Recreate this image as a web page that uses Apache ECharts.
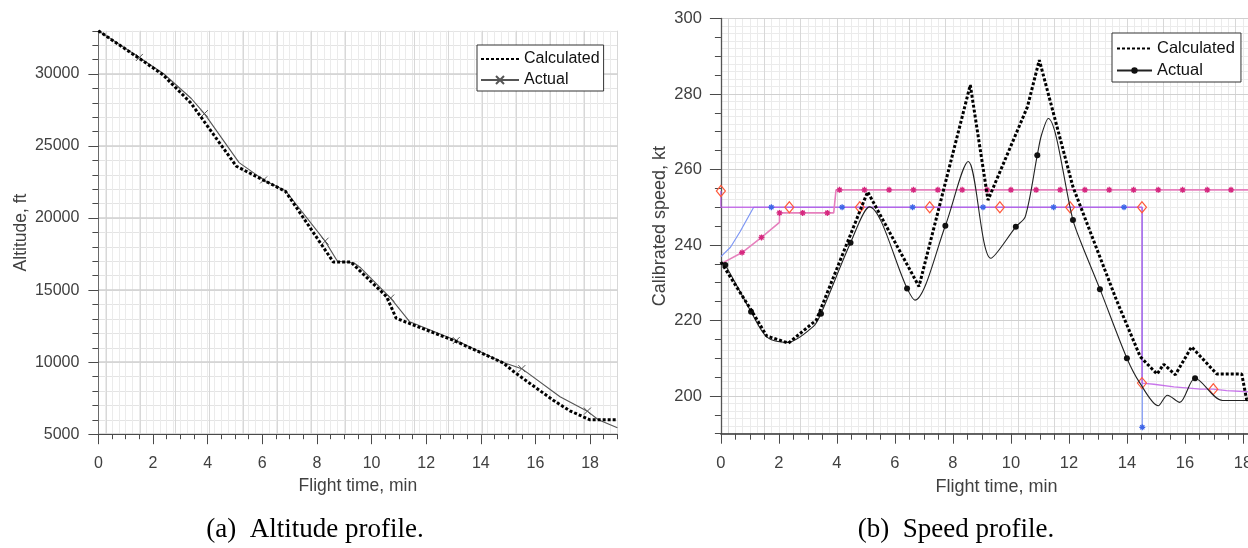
<!DOCTYPE html>
<html><head><meta charset="utf-8">
<script src="https://cdn.jsdelivr.net/npm/echarts@6/dist/echarts.min.js"></script>
<style>html,body{margin:0;padding:0;background:#fff}#c{width:1248px;height:548px}</style>
</head><body><div id="c"></div>
<script>
// ---------- tick labels ----------
const timeTicks = [0, 2, 4, 6, 8, 10, 12, 14, 16, 18];
const altTicks = [5000, 10000, 15000, 20000, 25000, 30000];
const speedTicks = [200, 220, 240, 260, 280, 300];

// ---------- (a) altitude profile ----------
const altCalcX = [0, 1.56, 2.36, 3.38, 5.05, 6.85, 8.6, 9.24, 10.55, 10.9, 11.3, 13.08, 14.82, 15.2, 15.8, 16.65, 17.26, 18.0, 19];
const altCalcY = [33000, 31000, 29950, 28000, 23600, 21850, 16950, 16950, 14550, 13050, 12750, 11450, 9950, 9350, 8520, 7360, 6620, 6000, 6000];
const altActX = [0, 1.5, 2.4, 3.4, 3.88, 5.15, 6.05, 6.85, 8.3, 8.75, 9.35, 9.6, 10.7, 11.4, 13.1, 14.8, 15.5, 16.9, 17.9, 18.3, 19];
const altActY = [33000, 31150, 30000, 28300, 27250, 23850, 22650, 21900, 18400, 17000, 16900, 16550, 14450, 12800, 11500, 10000, 9550, 7600, 6600, 6000, 5450];
const altActMarks = [1, 4, 6, 8, 12, 14, 16, 18];

// ---------- (b) speed profile ----------
const spdCalcX = [0, 1.04, 1.58, 2.33, 3.29, 5.06, 6.83, 8.6, 9.21, 10.57, 10.98, 12.14, 13.64, 14.46, 15.04, 15.27, 15.67, 16.23, 17.1, 17.96, 18.13, 19];
const spdCalcY = [235.5, 222.8, 215.9, 214.0, 220.1, 254.1, 229.0, 282.4, 251.9, 276.6, 289.0, 255.4, 225.4, 210.4, 205.8, 208.4, 205.6, 213.0, 205.8, 205.8, 199.0, 199.0];
const spdActX = [0, 0.15, 1.04, 1.6, 2.3, 3.2, 3.45, 4.47, 5.12, 6.42, 6.69, 7.74, 8.53, 9.31, 10.17, 10.5, 10.91, 11.05, 11.29, 12.14, 12.4, 13.07, 14.0, 14.45, 15.08, 15.4, 15.82, 16.35, 17.3, 19];
const spdActY = [235.5, 234.7, 222.3, 215.5, 214.2, 218.5, 221.8, 240.6, 250.1, 228.5, 225.4, 245.1, 262.1, 236.5, 244.8, 247.6, 263.8, 269.0, 273.5, 246.6, 241.0, 228.3, 210.0, 203.4, 197.4, 200.2, 198.3, 204.7, 198.8, 198.8];
const spdActMarks = [1, 2, 6, 7, 9, 11, 14, 16, 19, 21, 22, 27];

const blueX = [0, 0.33, 0.66, 1.13, 1.74, 4.18, 6.61, 9.04, 11.47, 13.9, 14.53, 14.53];
const blueY = [236.9, 239.4, 243.5, 250, 250, 250, 250, 250, 250, 250, 250, 191.7];
const blueMarks = [4, 5, 6, 7, 8, 9, 11];

const diaX = [0, 0, 2.36, 4.79, 7.2, 9.62, 12.04, 14.52, 14.52, 14.93, 15.62, 16.55, 16.98, 17.44, 18.2];
const diaY = [254.3, 250, 250, 250, 250, 250, 250, 250, 203.4, 203.1, 202.4, 201.8, 201.8, 201.4, 201.1];
const diaMarks = [0, 2, 3, 4, 5, 6, 7, 8, 12];

const pinkX = [0, 0.73, 1.4, 2.02, 2.02, 2.82, 3.67, 3.89, 3.97, 4.09, 4.95, 5.80, 6.64, 7.48, 8.32, 9.18, 10.0, 10.87, 11.70, 12.55, 13.39, 14.23, 15.08, 15.92, 16.77, 17.59, 18.43, 19];
const pinkY = [235, 238, 242, 246, 248.5, 248.5, 248.5, 248.5, 254.6, 254.6, 254.6, 254.6, 254.6, 254.6, 254.6, 254.6, 254.6, 254.6, 254.6, 254.6, 254.6, 254.6, 254.6, 254.6, 254.6, 254.6, 254.6, 254.6];
const pinkMarks = [1, 2, 4, 5, 6, 9, 10, 11, 12, 13, 14, 15, 16, 17, 18, 19, 20, 21, 22, 23, 24, 25, 26];

// ---------- helpers ----------
const FONT = '"Liberation Sans", Arial, Helvetica, sans-serif';
function pts(xs, ys) { return xs.map((x, i) => [x, ys[i]]); }
function marked(xs, ys, marks) {
  return xs.map((x, i) => marks.indexOf(i) >= 0 ? { value: [x, ys[i]] } : { value: [x, ys[i]], symbol: 'none' });
}
const plain = v => String(v);
const CROSS = 'path://M0,0L10,10M10,0L0,10';
const STAR = 'path://M5,0L5,10M0,5L10,5M1.5,1.5L8.5,8.5M8.5,1.5L1.5,8.5';
const GRID_FINE = '#ebebeb';
const GRID_MED = '#d8d8d8';
const GRID_MAJOR = '#d0d0d0';
const AXIS_COL = '#4a4a4a';
const TXT = '#404040';

// grid geometry (pixels)
const LX0 = 98.4, LW = 519, LTOP = 30.8, LH = 403.4;
const RX0 = 720.9, RW = 551, RTOP = 18.5, RH = 415.2;

function hiddenAxis(extra) {
  return Object.assign({
    type: 'value', axisLine: { show: false }, axisTick: { show: false },
    axisLabel: { show: false }, splitLine: { show: false }
  }, extra);
}

const option = {
  animation: false,
  backgroundColor: '#fff',
  grid: [
    { left: LX0, top: LTOP, width: LW, height: LH, outerBoundsMode: 'none', containLabel: false },
    { left: LX0 + 0.3 * LW / 19, top: LTOP, width: LW - 0.3 * LW / 19, height: LH, outerBoundsMode: 'none', containLabel: false },
    { left: RX0, top: RTOP, width: RW, height: RH, outerBoundsMode: 'none', containLabel: false },
    { left: RX0 + 0.25 * RW / 19, top: RTOP, width: RW - 0.25 * RW / 19, height: RH, outerBoundsMode: 'none', containLabel: false }
  ],
  xAxis: [
    { // 0 left main
      gridIndex: 0, type: 'value', min: 0, max: 19, position: 'bottom', z: 3,
      axisLine: { show: true, lineStyle: { color: AXIS_COL, width: 1 } },
      axisTick: { show: true, length: 10, customValues: timeTicks, lineStyle: { color: AXIS_COL } },
      axisLabel: { customValues: timeTicks, formatter: plain, fontSize: 16, color: TXT, margin: 21, fontFamily: FONT },
      splitLine: { show: false },
      name: 'Flight time, min', nameLocation: 'middle', nameGap: 43,
      nameTextStyle: { fontSize: 17.5, color: TXT, fontFamily: FONT }
    },
    hiddenAxis({ gridIndex: 0, min: 0, max: 19, interval: 0.5, position: 'bottom', z: 3,
      axisTick: { show: true, length: 5, lineStyle: { color: AXIS_COL } } }),
    hiddenAxis({ gridIndex: 0, min: 0, max: 19, interval: 0.25, position: 'bottom', z: 0,
      splitLine: { show: true, lineStyle: { color: GRID_FINE, width: 1 } } }),
    hiddenAxis({ gridIndex: 1, min: 0.3, max: 19, interval: 1.25, position: 'bottom', z: 1,
      splitLine: { show: true, lineStyle: { color: GRID_MED, width: 1 } } }),
    { // 4 right main
      gridIndex: 2, type: 'value', min: 0, max: 19, position: 'bottom', z: 3,
      axisLine: { show: true, lineStyle: { color: '#333', width: 1.6 } },
      axisTick: { show: true, length: 10, customValues: timeTicks, lineStyle: { color: AXIS_COL } },
      axisLabel: { customValues: timeTicks, formatter: plain, fontSize: 16.5, color: TXT, margin: 21, fontFamily: FONT },
      splitLine: { show: false },
      name: 'Flight time, min', nameLocation: 'middle', nameGap: 44,
      nameTextStyle: { fontSize: 18, color: TXT, fontFamily: FONT }
    },
    hiddenAxis({ gridIndex: 2, min: 0, max: 19, interval: 0.5, position: 'bottom', z: 3,
      axisTick: { show: true, length: 6, lineStyle: { color: AXIS_COL } } }),
    hiddenAxis({ gridIndex: 2, min: 0, max: 19, interval: 0.25, position: 'bottom', z: 0,
      splitLine: { show: true, lineStyle: { color: GRID_FINE, width: 1 } } }),
    hiddenAxis({ gridIndex: 3, min: 0.25, max: 19, interval: 1.25, position: 'bottom', z: 1,
      splitLine: { show: true, lineStyle: { color: GRID_MED, width: 1 } } })
  ],
  yAxis: [
    { // 0 left main
      gridIndex: 0, type: 'value', min: 5000, max: 33000, position: 'left', z: 3,
      axisLine: { show: true, lineStyle: { color: '#6a6a6a', width: 1 } },
      axisTick: { show: true, length: 10, customValues: altTicks, lineStyle: { color: AXIS_COL } },
      axisLabel: { customValues: altTicks, formatter: plain, fontSize: 16, color: TXT, margin: 19, fontFamily: FONT },
      splitLine: { show: true, lineStyle: { color: GRID_MAJOR, width: 1.5 } },
      name: 'Altitude, ft', nameLocation: 'middle', nameGap: 68,
      nameTextStyle: { fontSize: 17.5, color: TXT, fontFamily: FONT }
    },
    hiddenAxis({ gridIndex: 0, min: 5000, max: 33000, interval: 1000, position: 'left', z: 0,
      axisTick: { show: true, length: 6, lineStyle: { color: AXIS_COL } },
      splitLine: { show: true, lineStyle: { color: '#e4e4e4', width: 1 } } }),
    hiddenAxis({ gridIndex: 1, min: 0, max: 1 }),
    { // 3 right main
      gridIndex: 2, type: 'value', min: 190, max: 300, position: 'left', z: 3,
      axisLine: { show: true, lineStyle: { color: '#555', width: 1.3 } },
      axisTick: { show: true, length: 11, customValues: speedTicks, lineStyle: { color: AXIS_COL } },
      axisLabel: { customValues: speedTicks, formatter: plain, fontSize: 16.5, color: TXT, margin: 19, fontFamily: FONT },
      splitLine: { show: true, lineStyle: { color: GRID_MAJOR, width: 1.2 } },
      name: 'Calibrated speed, kt', nameLocation: 'middle', nameGap: 52,
      nameTextStyle: { fontSize: 18, color: TXT, fontFamily: FONT }
    },
    hiddenAxis({ gridIndex: 2, min: 190, max: 300, interval: 5, position: 'left', z: 3,
      axisTick: { show: true, length: 6, lineStyle: { color: AXIS_COL } } }),
    hiddenAxis({ gridIndex: 2, min: 190, max: 300, interval: 2, position: 'left', z: 0,
      splitLine: { show: true, lineStyle: { color: GRID_FINE, width: 1 } } }),
    hiddenAxis({ gridIndex: 3, min: 0, max: 1 })
  ],
  legend: [
    {
      data: [{ name: 'Calculated (a)', itemStyle: { opacity: 0 } }, { name: 'Actual (a)' }],
      orient: 'vertical', left: 477, top: 45,
      padding: [6, 4, 3, 3], itemGap: 5, itemWidth: 38, itemHeight: 10,
      borderColor: '#333', borderWidth: 1, backgroundColor: '#fff', selectedMode: false,
      formatter: n => n.replace(/ \(a\)$/, ''),
      textStyle: { fontSize: 16, color: '#111', fontFamily: FONT }
    },
    {
      data: [{ name: 'Calculated (b)', itemStyle: { opacity: 0 } }, { name: 'Actual (b)' }],
      orient: 'vertical', left: 1112, top: 33,
      padding: [7, 6, 3, 4], itemGap: 5, itemWidth: 35, itemHeight: 8,
      borderColor: '#333', borderWidth: 1, backgroundColor: '#fff', selectedMode: false,
      formatter: n => n.replace(/ \(b\)$/, ''),
      textStyle: { fontSize: 16.5, color: '#111', fontFamily: FONT }
    }
  ],
  series: [
    { // left actual
      name: 'Actual (a)', type: 'line', xAxisIndex: 0, yAxisIndex: 0, z: 4,
      data: marked(altActX, altActY, altActMarks),
      symbol: CROSS, symbolSize: 7, showSymbol: true,
      itemStyle: { color: '#555', borderColor: '#555', borderWidth: 1 },
      lineStyle: { color: '#555', width: 1.1 }
    },
    { // left calculated
      name: 'Calculated (a)', type: 'line', xAxisIndex: 0, yAxisIndex: 0, z: 5,
      data: pts(altCalcX, altCalcY), symbol: 'none',
      itemStyle: { color: '#000' },
      lineStyle: { color: '#000', width: 3, type: [3, 2] }
    },
    { // right blue
      name: 'blue', type: 'line', xAxisIndex: 4, yAxisIndex: 3, z: 3,
      data: marked(blueX, blueY, blueMarks), symbol: STAR, symbolSize: 6,
      itemStyle: { color: '#3f66e8', borderColor: '#3f66e8', borderWidth: 1.3 },
      lineStyle: { color: '#7e97f4', width: 1.2 }
    },
    { // right diamond series
      name: 'diamond', type: 'line', xAxisIndex: 4, yAxisIndex: 3, z: 3,
      data: marked(diaX, diaY, diaMarks), symbol: 'diamond', symbolSize: [9, 11],
      itemStyle: { color: 'rgba(255,255,255,0)', borderColor: '#ff5a3c', borderWidth: 1.2 },
      lineStyle: { color: '#bb55e6', width: 1.4, opacity: 0.8 }
    },
    { // right pink
      name: 'pink', type: 'line', xAxisIndex: 4, yAxisIndex: 3, z: 3,
      data: marked(pinkX, pinkY, pinkMarks), symbol: STAR, symbolSize: 6,
      itemStyle: { color: '#d6287f', borderColor: '#d6287f', borderWidth: 1.3 },
      lineStyle: { color: '#e680bd', width: 1.6 }
    },
    { // right actual
      name: 'Actual (b)', type: 'line', xAxisIndex: 4, yAxisIndex: 3, z: 4,
      data: marked(spdActX, spdActY, spdActMarks), smooth: 0.3,
      symbol: 'circle', symbolSize: 6,
      itemStyle: { color: '#111', borderColor: '#111', borderWidth: 0 },
      lineStyle: { color: '#222', width: 1.1 }
    },
    { // right calculated
      name: 'Calculated (b)', type: 'line', xAxisIndex: 4, yAxisIndex: 3, z: 5,
      data: pts(spdCalcX, spdCalcY), symbol: 'none',
      itemStyle: { color: '#000' },
      lineStyle: { color: '#000', width: 3, type: [3, 2] }
    }
  ],
  graphic: [
    { type: 'text', x: 315, y: 530, z: 10,
      style: { text: '(a)  Altitude profile.', fontSize: 27, fontFamily: '"Liberation Serif", "Times New Roman", serif',
        fill: '#000', align: 'center', verticalAlign: 'middle', textAlign: 'center', textVerticalAlign: 'middle' } },
    { type: 'text', x: 956, y: 530, z: 10,
      style: { text: '(b)  Speed profile.', fontSize: 27, fontFamily: '"Liberation Serif", "Times New Roman", serif',
        fill: '#000', align: 'center', verticalAlign: 'middle', textAlign: 'center', textVerticalAlign: 'middle' } }
  ]
};

const chart = echarts.init(document.getElementById('c'), null, { renderer: 'canvas', width: 1248, height: 548 });
chart.setOption(option);
</script>
</body></html>
